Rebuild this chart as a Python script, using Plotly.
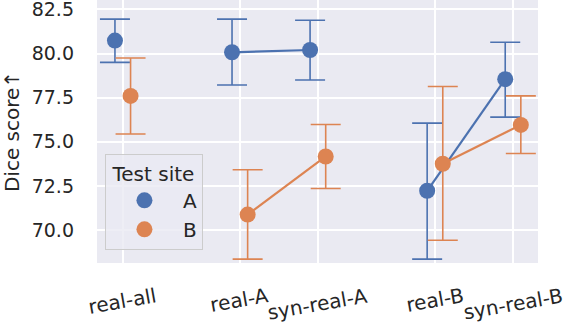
import plotly.graph_objects as go

# training set categories and where they sit on the x axis (gaps between groups)
categories = ["real-all", "real-A", "syn-real-A", "real-B", "syn-real-B"]
cat_pos = [0, 1.5, 2.5, 4, 5]
line_groups = [[0], [1, 2], [3, 4]]  # points joined by a line

# Dice score, mean and confidence interval, per test site
site_a_mean = [80.73, 80.07, 80.20, 72.23, 78.55]
site_a_hi = [81.95, 81.95, 81.88, 76.06, 80.64]
site_a_lo = [79.50, 78.22, 78.50, 68.36, 76.40]

site_b_mean = [77.60, 70.88, 74.17, 73.76, 75.96]
site_b_hi = [79.75, 73.42, 75.98, 78.13, 77.60]
site_b_lo = [75.44, 68.36, 72.36, 69.43, 74.34]

y_ticks = [70.0, 72.5, 75.0, 77.5, 80.0, 82.5]

sites = [
    ("A", "#4c72b0", -0.1, site_a_mean, site_a_hi, site_a_lo),
    ("B", "#dd8452", 0.1, site_b_mean, site_b_hi, site_b_lo),
]

FONT = "DejaVu Sans"
TXT = "#262626"

fig = go.Figure()

for name, color, dodge, mean, hi, lo in sites:
    for gi, idx in enumerate(line_groups):
        xs = [cat_pos[i] + dodge for i in idx]
        ys = [mean[i] for i in idx]
        fig.add_trace(go.Scatter(
            x=xs, y=ys,
            mode="lines+markers" if len(idx) > 1 else "markers",
            name=name, legendgroup=name, showlegend=(gi == 0),
            line=dict(color=color, width=2.2),
            marker=dict(color=color, size=16),
            error_y=dict(
                type="data", symmetric=False,
                array=[hi[i] - mean[i] for i in idx],
                arrayminus=[mean[i] - lo[i] for i in idx],
                color=color, thickness=1.6, width=15,
            ),
            cliponaxis=False,
        ))

# rotated category labels (centred under each tick)
for pos, lab in zip(cat_pos, categories):
    fig.add_annotation(
        x=pos, y=0, xref="x", yref="paper",
        text=lab, showarrow=False, textangle=-10,
        xanchor="center", yanchor="top", yshift=-18,
        font=dict(family=FONT, size=20, color=TXT),
    )

fig.update_layout(
    width=565, height=324,
    margin=dict(l=97, r=27, t=0, b=61),
    paper_bgcolor="white",
    plot_bgcolor="#eaeaf2",
    font=dict(family=FONT, size=19, color=TXT),
    legend=dict(
        title=dict(text="Test site", side="top center", font=dict(size=20)),
        x=0.018, y=0.415, xanchor="left", yanchor="top",
        bgcolor="rgba(234,234,242,0.8)", bordercolor="#cccccc", borderwidth=1,
        font=dict(size=20), tracegroupgap=0, itemwidth=67,
    ),
)
fig.update_xaxes(
    range=[-0.33, 5.32], tickvals=cat_pos, showticklabels=False,
    showgrid=True, gridcolor="white", gridwidth=1.6, zeroline=False,
    automargin=False,
)
fig.update_yaxes(
    range=[68.14, 83.03], tickvals=y_ticks, tickformat=".1f",
    showgrid=True, gridcolor="white", gridwidth=1.6, zeroline=False,
    ticklabelstandoff=22, automargin=False, ticklabeloverflow="allow",
    title=dict(text="Dice score↑", standoff=10, font=dict(size=20)),
)

fig.write_html("out.html", config={"displayModeBar": False},
               post_script="document.body.style.margin='0';")
